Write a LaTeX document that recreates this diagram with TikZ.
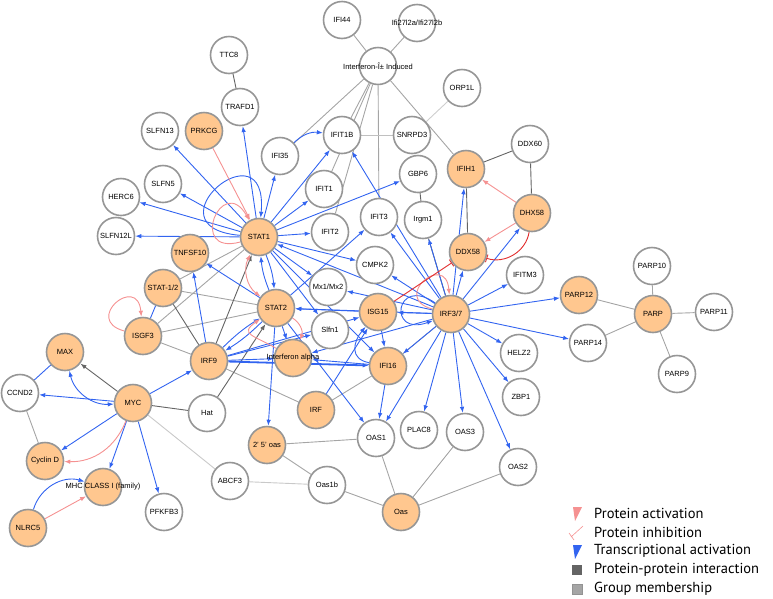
\documentclass[tikz,border=0pt]{standalone}
\usepackage{fontspec}
\setmainfont{Liberation Sans}
\newfontfamily\legfont{PT Sans}
\usetikzlibrary{arrows.meta,backgrounds}
\definecolor{hitorange}{RGB}{255,199,143}
\definecolor{ringgray}{RGB}{150,150,150}
\definecolor{transblue}{RGB}{50,100,240}
\definecolor{actpink}{RGB}{245,145,145}
\definecolor{inhred}{RGB}{225,45,45}
\definecolor{ppigray}{RGB}{100,100,100}
\definecolor{grpgray}{RGB}{165,165,165}

\begin{document}
\begin{tikzpicture}[x=1pt,y=-1pt]
	\tikzset{gene/.style={circle,draw=ringgray,line width=1.6pt,fill=white,minimum size=37pt,inner sep=0pt,font=\fontsize{7.5}{8}\selectfont},
		hit/.style={gene,fill=hitorange},
		every label/.style={font=\fontsize{7.5}{8}\selectfont},
		trans/.style={transblue,line width=0.9pt,-{Latex[length=6pt,width=4.5pt]}},
		act/.style={actpink,line width=0.9pt,-{Latex[length=6pt,width=4.5pt]}},
		inh/.style={inhred,line width=0.9pt,-{Bar[width=8pt]}},
		ppi/.style={ppigray,line width=0.9pt},
		grp/.style={grpgray,line width=0.9pt},
		legtext/.style={anchor=west,inner sep=0pt,font=\legfont\fontsize{14.5}{15}\selectfont}};
	\useasboundingbox (0,0) rectangle (773,598);
	% genes
	\node[gene] (ifi44) at (342,20) {IFI44};
	\node[gene,label={center:Ifi27l2a/Ifi27l2b}] (ifi27) at (417,23) {};
	\node[gene,label={center:Interferon-Î± Induced}] (induced) at (378,66) {};
	\node[gene] (ttc8) at (229,55) {TTC8};
	\node[gene] (trafd1) at (240,107) {TRAFD1};
	\node[gene] (orp1l) at (462,88) {ORP1L};
	\node[gene] (slfn13) at (160,131) {SLFN13};
	\node[hit] (prkcg) at (204,131) {PRKCG};
	\node[gene] (ifi35) at (280,156) {IFI35};
	\node[gene] (ifit1b) at (342,135) {IFIT1B};
	\node[gene] (snrpd3) at (412,135) {SNRPD3};
	\node[gene] (ddx60) at (530,144) {DDX60};
	\node[hit] (ifih1) at (466,169) {IFIH1};
	\node[gene] (slfn5) at (163,184) {SLFN5};
	\node[gene] (herc6) at (121,197) {HERC6};
	\node[gene] (gbp6) at (418,174) {GBP6};
	\node[gene] (ifit1) at (324,189) {IFIT1};
	\node[hit] (dhx58) at (532,213) {DHX58};
	\node[gene] (irgm1) at (423,220) {Irgm1};
	\node[gene] (ifit3) at (379,217) {IFIT3};
	\node[gene] (ifit2) at (330,232) {IFIT2};
	\node[hit] (stat1) at (259,237) {STAT1};
	\node[gene] (slfn12l) at (116,236) {SLFN12L};
	\node[hit] (tnfsf10) at (190,253) {TNFSF10};
	\node[hit] (ddx58) at (468,252) {DDX58};
	\node[gene] (cmpk2) at (375,265) {CMPK2};
	\node[gene] (ifitm3) at (525,275) {IFITM3};
	\node[gene] (mx) at (328,287) {Mx1/Mx2};
	\node[hit] (stat12) at (163,288) {STAT-1/2};
	\node[hit] (isgf3) at (143,336) {ISGF3};
	\node[hit] (stat2) at (276,308) {STAT2};
	\node[hit] (parp12) at (579,295) {PARP12};
	\node[gene] (parp10) at (652,266) {PARP10};
	\node[hit] (parp) at (653,314) {PARP};
	\node[gene] (parp11) at (714,312) {PARP11};
	\node[hit] (isg15) at (378,312) {ISG15};
	\node[hit] (irf37) at (451,314) {IRF3/7};
	\node[gene] (slfn1) at (330,330) {Slfn1};
	\node[gene] (parp14) at (588,343) {PARP14};
	\node[gene] (parp9) at (677,374) {PARP9};
	\node[hit] (max) at (65,352) {MAX};
	\node[hit] (irf9) at (209,361) {IRF9};
	\node[hit,label={center:Interferon alpha}] (ifna) at (293,358) {};
	\node[hit] (ifi16) at (388,366) {IFI16};
	\node[gene] (helz2) at (519,353) {HELZ2};
	\node[gene] (ccnd2) at (20,393) {CCND2};
	\node[hit] (myc) at (133,403) {MYC};
	\node[gene] (hat) at (207,413) {Hat};
	\node[hit] (irf) at (316,410) {IRF};
	\node[gene] (zbp1) at (521,397) {ZBP1};
	\node[hit] (oas25) at (267,445) {2' 5' oas};
	\node[gene] (oas1) at (376,438) {OAS1};
	\node[gene] (plac8) at (419,430) {PLAC8};
	\node[gene] (oas3) at (465,432) {OAS3};
	\node[gene] (oas2) at (518,467) {OAS2};
	\node[hit] (cycd) at (45,461) {Cyclin D};
	\node[hit,label={center:MHC CLASS I (family)}] (mhc) at (103,487) {};
	\node[gene] (abcf3) at (230,481) {ABCF3};
	\node[gene] (oas1b) at (327,485) {Oas1b};
	\node[hit] (oas) at (401,512) {Oas};
	\node[gene] (pfkfb3) at (164,512) {PFKFB3};
	\node[hit] (nlrc5) at (28,528) {NLRC5};
	\begin{scope}[on background layer]
		% group membership and protein-protein interaction
		\foreach \g in {ifi44,ifi27,ifi35,ifit1b,ifit1,ifit2,ifit3,ifih1}
			\draw[grp] (induced) -- (\g);
		\draw[grp,grpgray!55] (orp1l) -- (snrpd3);
		\draw[grp,grpgray!70] (ifit1b) -- (snrpd3);
		\foreach \g in {parp12,parp10,parp11,parp14,parp9}
			\draw[grp] (parp) -- (\g);
		\foreach \g in {oas1,oas3,oas2,oas1b}
			\draw[grp] (oas) -- (\g);
		\draw[grp] (oas25) -- (oas1);
		\draw[grp] (oas25) -- (oas1b);
		\draw[grp,grpgray!60] (abcf3) -- (oas1b);
		\draw[grp,grpgray!60] (myc) -- (abcf3);
		\draw[grp] (stat12) -- (stat1);
		\draw[grp] (stat12) -- (stat2);
		\draw[grp] (isgf3) -- (stat1);
		\draw[grp] (isgf3) -- (stat2);
		\draw[grp] (isgf3) -- (irf9);
		\draw[grp] (irf9) -- (irf);
		\draw[grp] (irf) -- (ifi16);
		\draw[grp] (irf37) -- (ifi16);
		\draw[grp] (ccnd2) -- (cycd);
		\draw[ppi] (ttc8) -- (trafd1);
		\draw[ppi] (gbp6) -- (irgm1);
		\draw[ppi] (irgm1) -- (irf37);
		\draw[ppi] (ddx60) -- (ifih1);
		\draw[ppi] (ddx60) -- (dhx58);
		\draw[ppi] (ifih1) -- (ddx58);
		\draw[ppi] (myc) -- (hat);
		\draw[ppi] (stat12) -- (irf9);
		\draw[ppi,-{Latex[length=6pt,width=4.5pt]}] (myc) -- (max);
		\draw[ppi,-{Latex[length=6pt,width=4.5pt]}] (irf9) -- (stat1);
		\draw[ppi,-{Latex[length=6pt,width=4.5pt]}] (hat) -- (stat2);
		% transcriptional activation
		\foreach \g in {trafd1,slfn13,slfn5,herc6,slfn12l,ifi35,ifit1b,ifit1,ifit2,gbp6,cmpk2,mx,slfn1,ifi16}
			\draw[trans] (stat1) -- (\g);
		\draw[trans] (stat1) to[bend left=8] (stat2);
		\draw[trans] (stat2) to[bend left=8] (stat1);
		\draw[trans] (stat1) to[out=175,in=85,looseness=9] (stat1);
		\draw[trans] (ifi35) to[bend left=25] (ifit1b);
		\foreach \g in {ifih1,ddx58,dhx58,ifitm3,parp12,parp14,helz2,zbp1,oas2,oas3,plac8,oas1,ifi16,isg15,mx,stat2,ifna,cmpk2,ifit3,ifit1b,irgm1,stat1}
			\draw[trans] (irf37) -- (\g);
		\draw[trans] (irf37) to[out=145,in=200,looseness=7] (irf37);
		\foreach \g in {oas25,tnfsf10,ifna,oas1,ifit3}
			\draw[trans] (stat2) -- (\g);
		\draw[trans] (stat2) to[bend left=6] (irf9);
		\draw[trans] (irf9) to[bend left=6] (stat2);
		\foreach \g in {tnfsf10,ifna,slfn1,isg15}
			\draw[trans] (irf9) -- (\g);
		\draw[trans,line width=1.8pt] (irf9) -- (ifi16);
		\draw[trans] (isg15) -- (stat2);
		\draw[trans] (isg15) -- (ifi16);
		\draw[trans] (ifi16) -- (oas1);
		\draw[trans] (ifi16) -- (ifna);
		\draw[trans] (ifi16) to[out=170,in=230,looseness=1.4] (isg15);
		\draw[trans] (irf) -- (isg15);
		\draw[transblue,line width=0.9pt] (stat12) -- (isgf3);
		\draw[transblue,line width=0.9pt] (ccnd2) -- (max);
		\foreach \g in {irf9,ccnd2,cycd,mhc,pfkfb3}
			\draw[trans] (myc) -- (\g);
		\draw[trans,{Latex[length=6pt,width=4.5pt]}-{Latex[length=6pt,width=4.5pt]}] (max) to[bend right=40] (myc);
		\draw[trans] (nlrc5) to[bend left=45] (mhc);
		% protein activation and inhibition
		\draw[act] (prkcg) -- (stat1);
		\draw[act] (stat1) to[out=195,in=120,looseness=6] (stat1);
		\draw[act,{Latex[length=6pt,width=4.5pt]}-{Latex[length=6pt,width=4.5pt]}] (stat2) to[bend left=40] (stat1);
		\draw[act] (stat2) to[bend left=40] (ifna);
		\draw[act] (ifna) to[out=150,in=215,looseness=2] (stat2);
		\draw[act] (irf37) to[out=165,in=95,looseness=5] (irf37);
		\draw[act] (isgf3) to[out=165,in=95,looseness=5] (isgf3);
		\draw[act] (dhx58) -- (ifih1);
		\draw[act] (dhx58) -- (ddx58);
		\draw[act] (myc) to[bend left=35] (cycd);
		\draw[act] (nlrc5) -- (mhc);
		\draw[inh] (isg15) -- (ddx58);
		\draw[inh] (dhx58) to[bend left=50] (ddx58);
	\end{scope}
	% legend
	\fill[actpink] (573,507) -- (582,507) -- (575,521) -- cycle;
	\draw[actpink,line width=0.6pt] (583,526) -- (571,537) (569,533) -- (574,540);
	\fill[transblue] (573,545) -- (582,545) -- (575,559) -- cycle;
	\fill[ppigray] (572,565) rectangle (582,575);
	\draw[ppigray!70,fill=grpgray] (572,584) rectangle (582,594);
	\node[legtext] (lact) at (594,513) {Protein activation};
	\node[legtext] (linh) at (594,532) {Protein inhibition};
	\node[legtext] (ltrans) at (594,551) {Transcriptional activation};
	\node[legtext] (lppi) at (594,570) {Protein-protein interaction};
	\node[legtext] (lgrp) at (594,589) {Group membership};
\end{tikzpicture}
\end{document}
